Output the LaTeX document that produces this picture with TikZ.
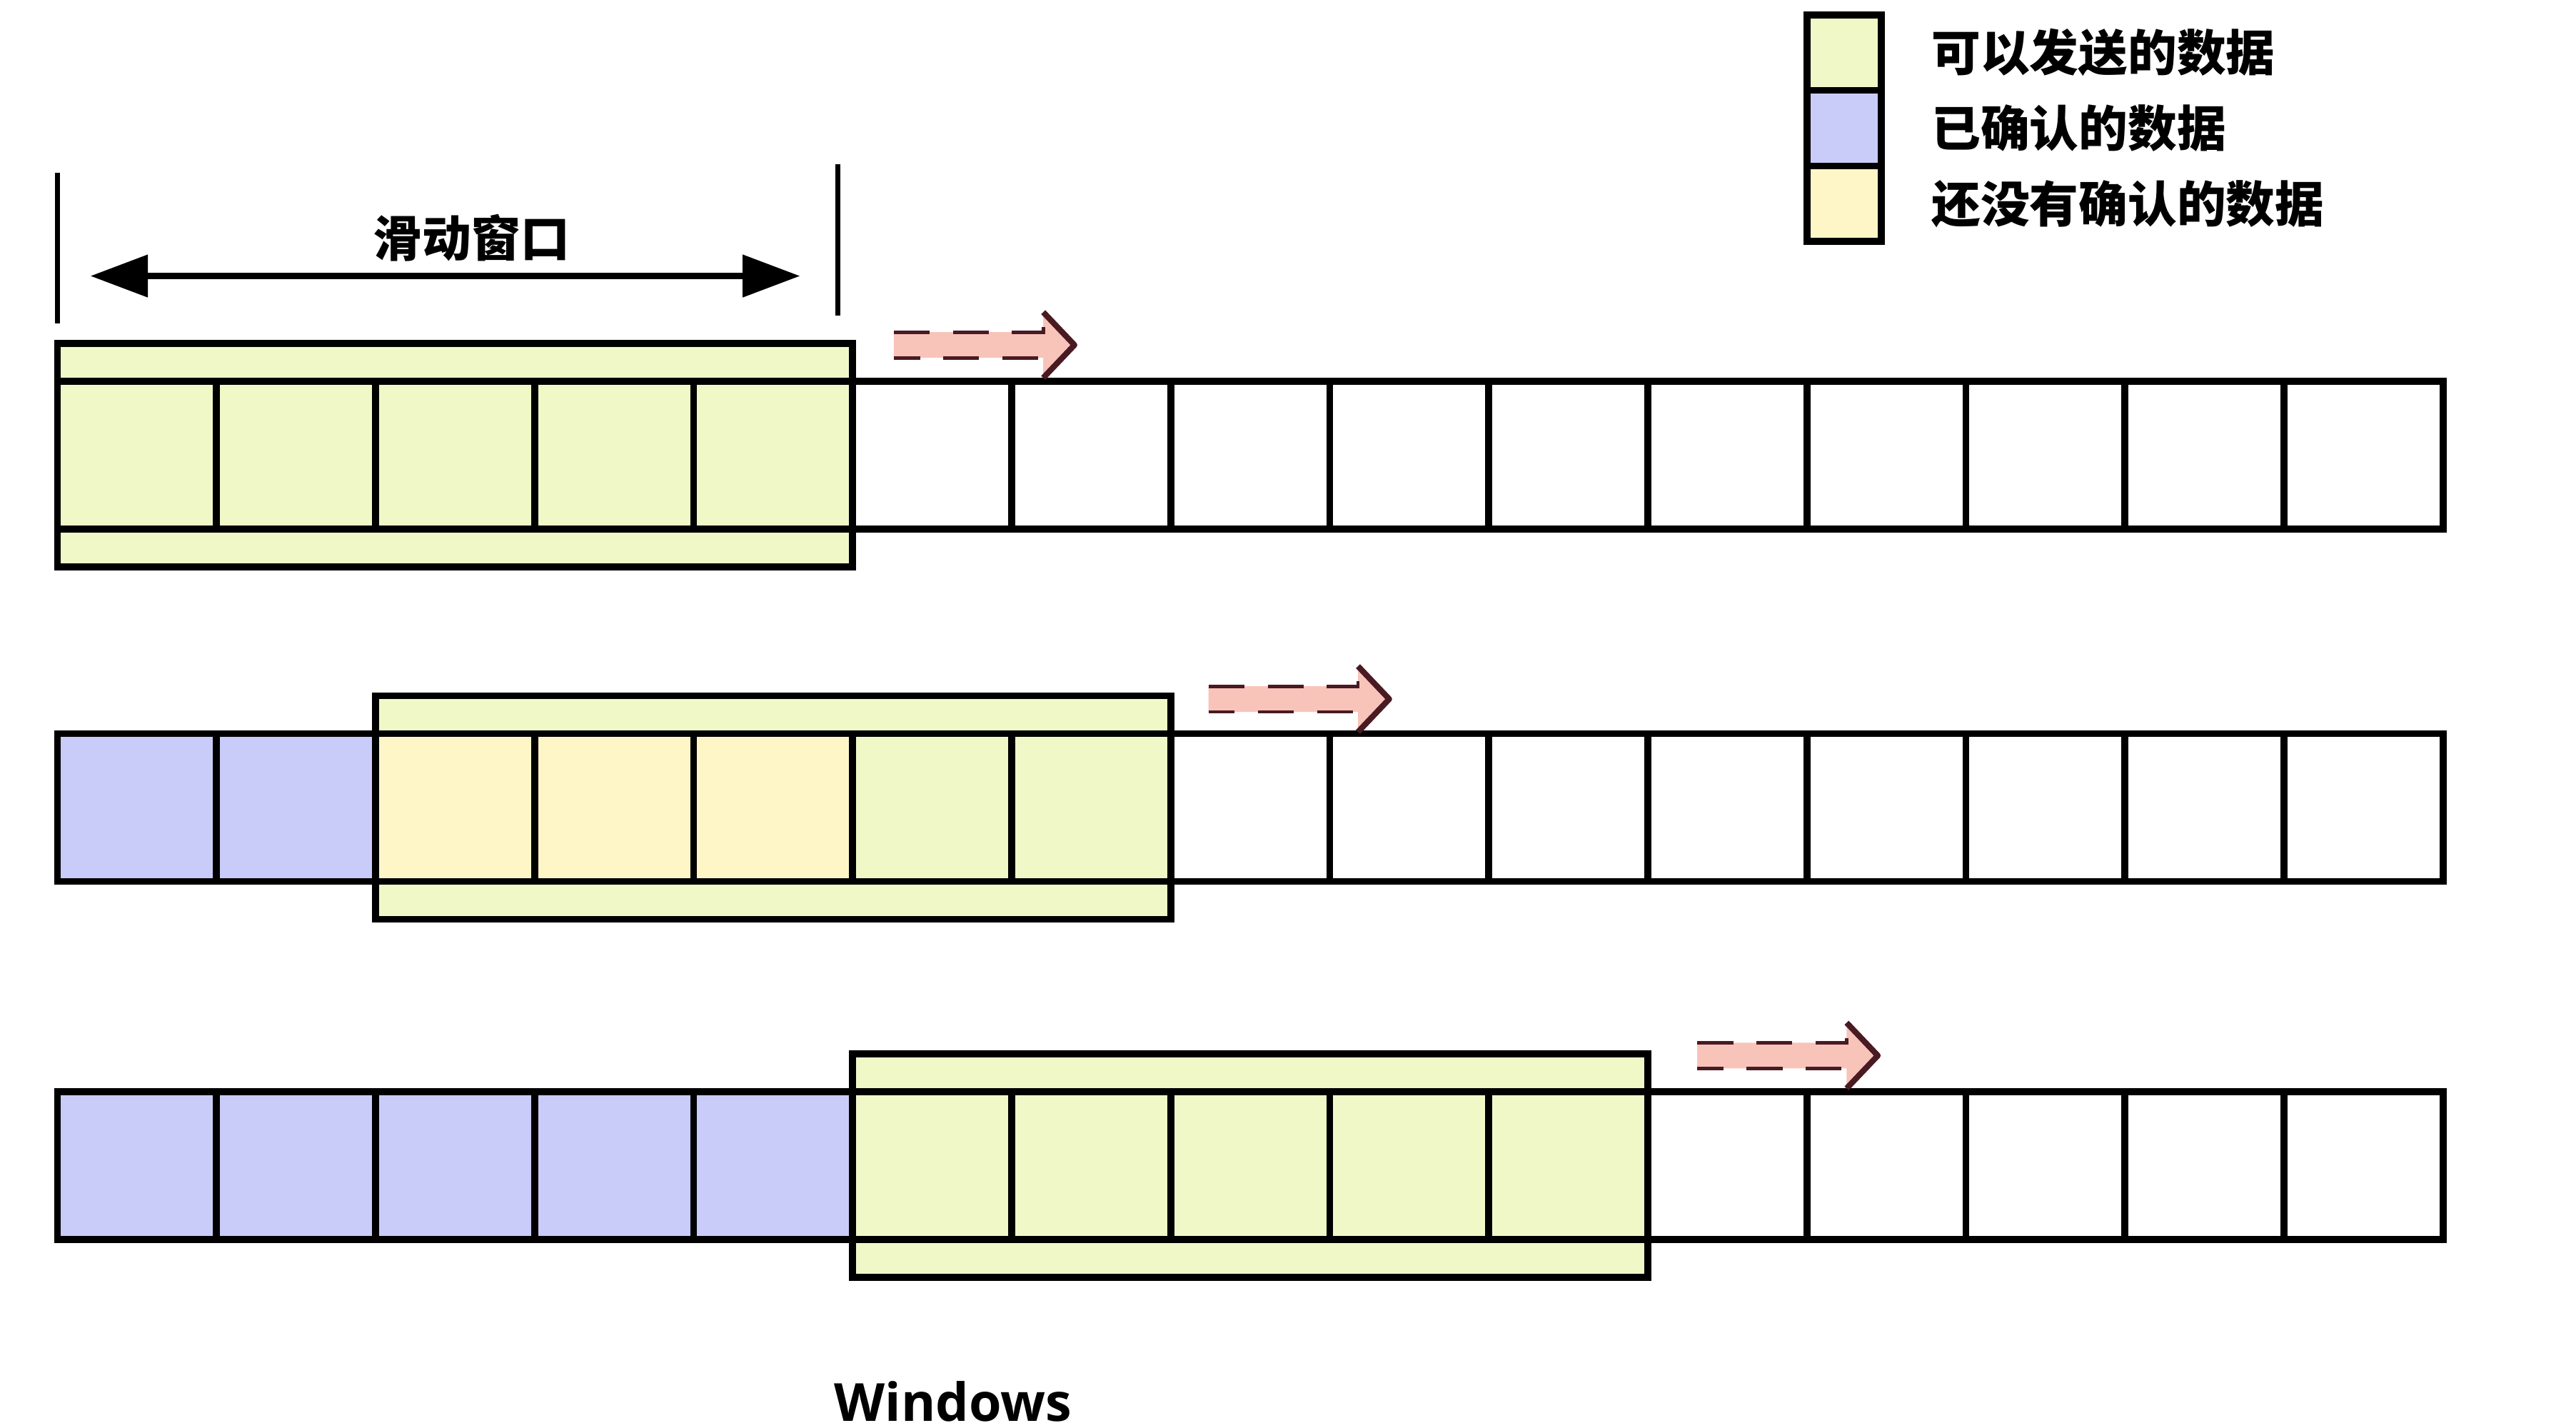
\documentclass[tikz,border=0pt]{standalone}
\usepackage{fontspec}
\newfontfamily\cjkfont{Noto Sans CJK SC}
\newfontfamily\winfont{Open Sans}
\usetikzlibrary{positioning,fit,backgrounds,calc,arrows.meta}

\definecolor{sendable}{HTML}{F0F8C8}
\definecolor{acked}{HTML}{C9CCF8}
\definecolor{unacked}{HTML}{FFF6C8}
\definecolor{movefill}{HTML}{F8C4BA}
\definecolor{moveline}{HTML}{4A1A22}

\tikzset{
  cell/.style={draw, line width=1.2pt, minimum width=0.968cm, minimum height=0.90cm, inner sep=0pt, outer sep=0pt},
  winframe/.style={draw, line width=1.2pt, fill=sendable, inner xsep=0pt, inner ysep=0.23cm, outer sep=0pt},
  key/.style={draw, line width=1.2pt, minimum width=0.45cm, minimum height=0.46cm, inner sep=0pt, outer sep=0pt},
  cjk/.style={font=\cjkfont\bfseries\fontsize{8.5}{10}\selectfont, inner sep=0pt},
  dimline/.style={line width=0.9pt},
  movearrow/.pic={
    \fill[movefill] (0,0.078) -- (0.91,0.078) -- (0.91,0.20) -- (1.10,0) -- (0.91,-0.20) -- (0.91,-0.078) -- (0,-0.078) -- cycle;
    \draw[moveline, line width=0.6pt, dash pattern=on 0.22cm off 0.14cm] (0,0.078) -- (0.91,0.078) -- (0.91,0.20);
    \draw[moveline, line width=0.6pt, dash pattern=on 0.22cm off 0.14cm, dash phase=0.06cm] (0,-0.078) -- (0.91,-0.078);
    \draw[moveline, line width=1pt, line join=round] (0.91,0.20) -- (1.10,0) -- (0.91,-0.20);
  }
}

\begin{document}
\begin{tikzpicture}
  \useasboundingbox (0,0) rectangle (15.68,8.69);

  % legend
  \node[key, fill=sendable] (k1) at (11.225,8.37) {};
  \node[key, fill=acked, below=0pt of k1] (k2) {};
  \node[key, fill=unacked, below=0pt of k2] (k3) {};
  \node[cjk, right=0.30cm of k1] (t1) {可以发送的数据};
  \node[cjk, right=0.30cm of k2] (t2) {已确认的数据};
  \node[cjk, right=0.30cm of k3] (t3) {还没有确认的数据};

  % window size
  \coordinate (dl1) at (0.35,7.64); \coordinate (dl2) at (0.35,6.72);
  \coordinate (dr1) at (5.10,7.69); \coordinate (dr2) at (5.10,6.77);
  \coordinate (da) at (0.55,7.01); \coordinate (db) at (4.87,7.01);
  \draw[dimline] (dl1) -- (dl2);
  \draw[dimline] (dr1) -- (dr2);
  \draw[line width=1.2pt, {Triangle[length=0.35cm,width=0.25cm]}-{Triangle[length=0.35cm,width=0.25cm]}] (da) -- (db);
  \node[cjk] (wlabel) at (2.87,7.24) {滑动窗口};

  % row 1
  \foreach \i in {0,...,14} {
    \def\fc{white}
    \ifnum\i<5 \def\fc{sendable}\fi
    \node[cell, fill=\fc] (a\i) at ({0.834+0.968*\i},5.92) {};
  }
  \begin{scope}[on background layer]
    \node[winframe, fit=(a0)(a4)] (wa) {};
  \end{scope}
  \pic at ($(wa.north east)+(0.25,-0.01)$) {movearrow};

  % row 2
  \foreach \i in {0,...,14} {
    \def\fc{white}
    \ifnum\i<7 \def\fc{sendable}\fi
    \ifnum\i<5 \def\fc{unacked}\fi
    \ifnum\i<2 \def\fc{acked}\fi
    \node[cell, fill=\fc] (b\i) at ({0.834+0.968*\i},3.775) {};
  }
  \begin{scope}[on background layer]
    \node[winframe, fit=(b2)(b6)] (wb) {};
  \end{scope}
  \pic at ($(wb.north east)+(0.23,-0.02)$) {movearrow};

  % row 3
  \foreach \i in {0,...,14} {
    \def\fc{white}
    \ifnum\i<10 \def\fc{sendable}\fi
    \ifnum\i<5 \def\fc{acked}\fi
    \node[cell, fill=\fc] (c\i) at ({0.834+0.968*\i},1.595) {};
  }
  \begin{scope}[on background layer]
    \node[winframe, fit=(c5)(c9)] (wc) {};
  \end{scope}
  \pic at ($(wc.north east)+(0.30,-0.01)$) {movearrow};

  \node[font=\winfont\bfseries\fontsize{9.1}{11}\selectfont, inner sep=0pt] (wtitle) at (5.80,0.16) {Windows};
\end{tikzpicture}
\end{document}
